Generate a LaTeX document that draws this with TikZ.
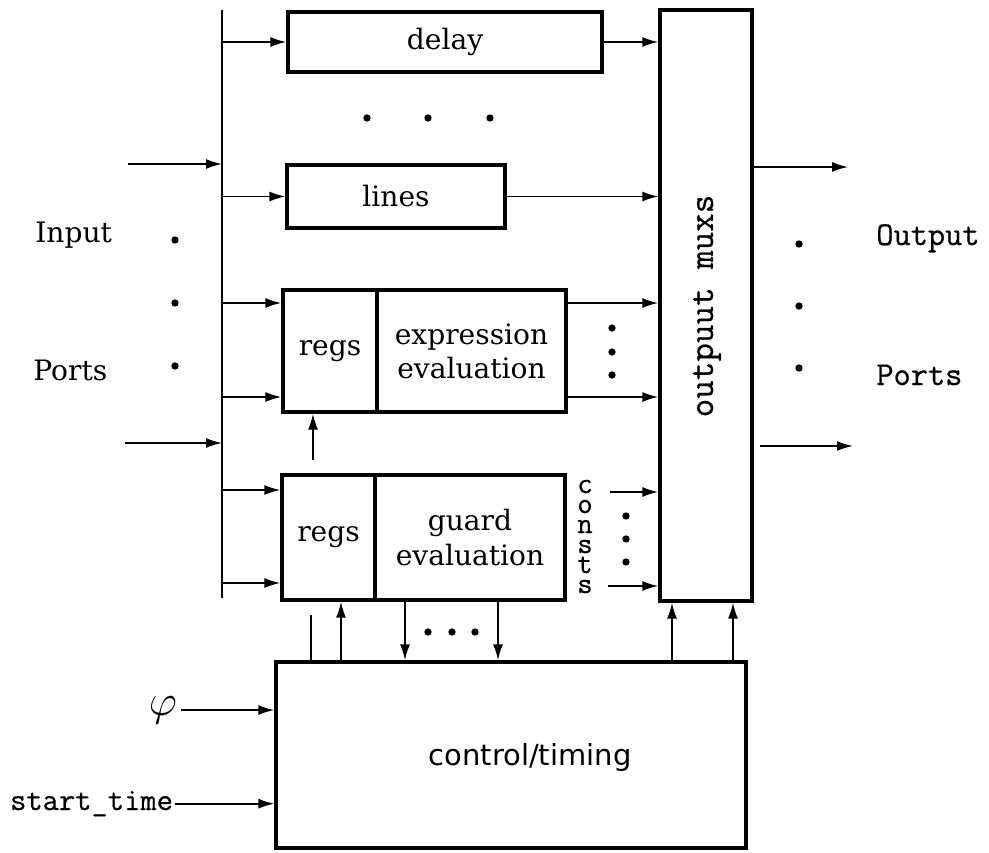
\documentclass[tikz,border=0pt]{standalone}
\usepackage{fontspec}
\setmainfont{DejaVu Serif}
\setsansfont{DejaVu Sans}
\setmonofont[FakeBold=0.6]{Latin Modern Mono}
\usepackage{tikz}
\usetikzlibrary{arrows.meta,positioning}

\begin{document}
\begin{tikzpicture}[
    x=0.02cm, y=-0.02cm,
    box/.style={rectangle, draw, line width=1.9pt, inner sep=0pt, align=center,
                font=\fontsize{16}{19.5}\selectfont},
    arrow/.style={-{Latex[length=3.2mm,width=2mm]}, line width=1pt},
    wire/.style={line width=1pt},
    lbl/.style={font=\fontsize{16}{19}\selectfont, inner sep=0pt},
    mono/.style={font=\fontsize{19}{20}\ttfamily, inner sep=0pt}
  ]
    \useasboundingbox (0,0) rectangle (989,852);

    \node[box, minimum width=6.28cm, minimum height=1.2cm] (delay) at (445,42) {delay};
    \node[box, minimum width=4.36cm, minimum height=1.26cm] (lines) at (396,196.5) {lines};

    \node[box, minimum width=1.88cm, minimum height=2.44cm] (exregs) at (330,351) {regs};
    \node[box, minimum width=3.78cm, minimum height=2.44cm, right=-1.9pt of exregs] (exeval)
      {expression\\evaluation};

    \node[box, minimum width=1.86cm, minimum height=2.5cm] (grregs) at (328.5,537.5) {regs};
    \node[box, minimum width=3.8cm, minimum height=2.5cm, right=-1.9pt of grregs] (greval)
      {guard\\evaluation};

    \node[box, minimum width=1.84cm, minimum height=11.82cm] (mux) at (706,305.5) {};
    \node[mono, rotate=90, font=\fontsize{20.5}{22}\ttfamily] (muxtxt) at (707,306) {outpuut muxs};

    \node[box, minimum width=9.4cm, minimum height=3.72cm] (ctrl) at (511,755) {};
    \node[font=\sffamily\fontsize{16.5}{20}\selectfont] (ctrltxt) at (530,757) {control/timing};

    \node[lbl, anchor=base west] (inlbl) at (35,242) {Input};
    \node[lbl, anchor=base west] (inports) at (33,380) {Ports};
    \node[mono, anchor=base west] (outlbl) at (876,245) {Output};
    \node[mono, anchor=base west] (outports) at (876,385) {Ports};
    \foreach \ch [count=\i] in {c,o,n,s,t,s}
      \node[mono, font=\fontsize{17}{18}\ttfamily, anchor=base] (cst\i) at (585,473+20*\i) {\ch};
    \node[inner sep=2pt, font=\fontsize{26}{28}\selectfont] (phi) at (163,710) {$\varphi$};
    \node[mono, font=\fontsize{18}{20}\ttfamily, anchor=base west, inner sep=1pt] (stime) at (8,810)
      {start\_time};

    \coordinate (bustop) at (222,10);
    \coordinate (busbot) at (222,598);
    \coordinate (in1) at (128,164);
    \coordinate (in2) at (125,443);
    \coordinate (b1) at (222,303);
    \coordinate (b2) at (222,397);
    \coordinate (b3) at (222,490);
    \coordinate (b4) at (222,583);
    \coordinate (c1) at (610,492);
    \coordinate (c2) at (608,586);
    \coordinate (o1) at (848,167);
    \coordinate (o2s) at (760,446);
    \coordinate (o2) at (853,446);
    \coordinate (g1) at (313,460);
    \coordinate (k0) at (311,615);
    \coordinate (k1) at (341,630);
    \coordinate (k2) at (405,630);
    \coordinate (k3) at (498,630);
    \coordinate (k4) at (672,630);
    \coordinate (k5) at (733,630);

    \draw[wire] (bustop) -- (busbot);
    \draw[arrow] (in1) -- (in1 -| bustop);
    \draw[arrow] (in2) -- (in2 -| bustop);

    \draw[arrow] (bustop |- delay) -- (delay);
    \draw[arrow] (bustop |- lines) -- (lines);
    \draw[arrow] (b1) -- (b1 -| exregs.west);
    \draw[arrow] (b2) -- (b2 -| exregs.west);
    \draw[arrow] (b3) -- (b3 -| grregs.west);
    \draw[arrow] (b4) -- (b4 -| grregs.west);

    \draw[arrow] (delay.east) -- (delay.east -| mux.west);
    \draw[arrow] (lines.east) -- (lines.east -| mux.west);
    \draw[arrow] (b1 -| exeval.east) -- (b1 -| mux.west);
    \draw[arrow] (b2 -| exeval.east) -- (b2 -| mux.west);
    \draw[arrow] (c1) -- (c1 -| mux.west);
    \draw[arrow] (c2) -- (c2 -| mux.west);

    \draw[arrow] (o1 -| mux.east) -- (o1);
    \draw[arrow] (o2s) -- (o2);

    \draw[arrow] (g1) -- (g1 |- exregs.south);
    \draw[wire] (k0 |- ctrl.north) -- (k0);
    \draw[arrow] (k1 |- ctrl.north) -- (k1 |- grregs.south);
    \draw[arrow] (k2 |- greval.south) -- (k2 |- ctrl.north);
    \draw[arrow] (k3 |- greval.south) -- (k3 |- ctrl.north);
    \draw[arrow] (k4 |- ctrl.north) -- (k4 |- mux.south);
    \draw[arrow] (k5 |- ctrl.north) -- (k5 |- mux.south);

    \draw[arrow] (phi) -- (phi -| ctrl.west);
    \draw[arrow] (stime.east) -- (stime.east -| ctrl.west);

    \foreach \x in {367,428,490} \fill (\x,118) circle (2.1pt);
    \foreach \y in {240,303,366} \fill (175,\y) circle (2.1pt);
    \foreach \y in {328,352,375} \fill (612,\y) circle (2.1pt);
    \foreach \y in {516,539,562} \fill (626,\y) circle (2.1pt);
    \foreach \x in {428,452,475} \fill (\x,632) circle (2.1pt);
    \foreach \y in {244,306,368} \fill (799,\y) circle (2.1pt);
  \end{tikzpicture}
\end{document}
